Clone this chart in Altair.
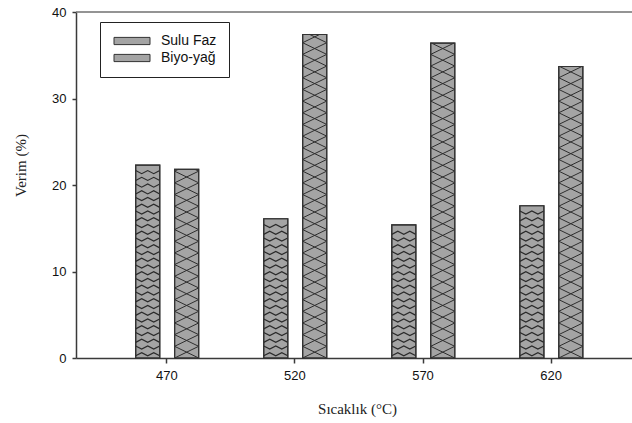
import altair as alt
import pandas as pd

# Yield (%) of the two product fractions at each pyrolysis temperature
temps = [470, 520, 570, 620]
sulu_faz = [22.3, 16.1, 15.4, 17.6]
biyo_yag = [21.8, 37.4, 36.4, 33.7]
series = ["Sulu Faz", "Biyo-yağ"]
y_ticks = [0, 10, 20, 30, 40]

# horizontal extent of each bar, relative to its temperature (in °C units)
OFFSETS = {"Sulu Faz": (-12.0, -2.6), "Biyo-yağ": (3.2, 12.6)}

rows = []
for t, s, b in zip(temps, sulu_faz, biyo_yag):
    for name, v in ((series[0], s), (series[1], b)):
        lo, hi = OFFSETS[name]
        rows.append({"temp": t, "seri": name, "verim": v, "x0": t + lo, "x1": t + hi})
bars = pd.DataFrame(rows)

# cross-hatch (diamond) fill for the bio-oil bars
PERIOD = 1.35
hatch = []
for r in bars[bars.seri == "Biyo-yağ"].itertuples():
    k = 0
    while k * PERIOD < r.verim:
        ya = k * PERIOD
        yb = min((k + 1) * PERIOD, r.verim)
        f = (yb - ya) / PERIOD
        w = r.x1 - r.x0
        hatch.append({"xa": r.x0, "ya": ya, "xb": r.x0 + f * w, "yb": yb})
        hatch.append({"xa": r.x1, "ya": ya, "xb": r.x1 - f * w, "yb": yb})
        k += 1
hatch = pd.DataFrame(hatch)

# wavy scale-like fill for the aqueous-phase bars
ROW, AMP = 0.78, 0.36
waves = []
sid = 0
for r in bars[bars.seri == "Sulu Faz"].itertuples():
    k = 0
    while True:
        base = 0.25 + k * ROW
        if base + AMP > r.verim - 0.1:
            break
        shift = k % 2
        for i, fx in enumerate([0, 0.25, 0.5, 0.75, 1.0]):
            dy = AMP if (i + shift) % 2 else 0.0
            waves.append({"id": sid, "ord": i, "x": r.x0 + fx * (r.x1 - r.x0), "y": base + dy})
        sid += 1
        k += 1
waves = pd.DataFrame(waves)

xscale = alt.Scale(domain=[434.7, 651.8], nice=False, zero=False)
yscale = alt.Scale(domain=[0, 40], nice=False, zero=True)

sans = "Liberation Sans"
serif = "Liberation Serif"

x_axis = alt.Axis(
    values=temps, format="d", title="Sıcaklık (°C)", grid=False,
    tickSize=5, labelPadding=6, labelFont=sans, labelFontSize=13,
    labelColor="#111111", domainColor="#3a3a3a", domainWidth=1.5,
    tickColor="#3a3a3a", tickWidth=1.5,
    titleFont=serif, titleFontSize=15, titleFontWeight="normal",
    titleColor="#222222", titleX=281, titleY=50, titleBaseline="middle",
)
y_axis = alt.Axis(
    values=y_ticks, format="d", title="Verim (%)", grid=False,
    tickSize=4, labelPadding=6, labelFont=sans, labelFontSize=13,
    labelColor="#111111", domainColor="#3a3a3a", domainWidth=1.5,
    tickColor="#3a3a3a", tickWidth=1.5,
    titleFont=serif, titleFontSize=15, titleFontWeight="normal",
    titleColor="#222222", titleAngle=270, titleX=-56, titleY=153,
    titleBaseline="middle", titleAlign="center",
)

bar_layer = alt.Chart(bars).mark_bar(stroke="#333333", strokeWidth=1.2).encode(
    x=alt.X("x0:Q", scale=xscale, axis=x_axis),
    x2="x1:Q",
    y=alt.Y("verim:Q", scale=yscale, axis=y_axis),
    y2=alt.datum(0),
    fill=alt.Fill(
        "seri:N",
        scale=alt.Scale(domain=series, range=["#a4a4a4", "#a4a4a4"]),
        legend=alt.Legend(
            title=None, orient="none", legendX=24, legendY=10,
            strokeColor="#222222", fillColor="white", padding=12,
            symbolType="M-1,-0.72H6.2V0.72H-1Z", symbolSize=100,
            symbolStrokeColor="#333333", symbolStrokeWidth=1,
            labelFont=sans, labelFontSize=14, labelColor="#111111",
            labelOffset=35, rowPadding=3,
        ),
    ),
)

hatch_layer = alt.Chart(hatch).mark_rule(color="#2e2e2e", strokeWidth=1).encode(
    x=alt.X("xa:Q", scale=xscale, axis=x_axis),
    x2="xb:Q",
    y=alt.Y("ya:Q", scale=yscale, axis=y_axis),
    y2="yb:Q",
)

wave_layer = alt.Chart(waves).mark_line(color="#2a2a2a", strokeWidth=1.2).encode(
    x=alt.X("x:Q", scale=xscale, axis=x_axis),
    y=alt.Y("y:Q", scale=yscale, axis=y_axis),
    detail="id:N",
    order="ord:Q",
)

outline_layer = alt.Chart(bars).mark_bar(fillOpacity=0, stroke="#333333", strokeWidth=1.2).encode(
    x=alt.X("x0:Q", scale=xscale, axis=x_axis),
    x2="x1:Q",
    y=alt.Y("verim:Q", scale=yscale, axis=y_axis),
    y2=alt.datum(0),
)

# top frame line
top_line = alt.Chart(pd.DataFrame({"y": [40]})).mark_rule(color="#707070", strokeWidth=1.5).encode(
    y=alt.Y("y:Q", scale=yscale, axis=y_axis),
)

chart = alt.layer(bar_layer, hatch_layer, wave_layer, outline_layer, top_line).properties(
    width=556,
    height=346,
    autosize=alt.AutoSizeParams(type="none"),
    padding={"left": 76, "top": 12, "right": 0, "bottom": 65},
    background="white",
).configure_view(stroke=None)

chart.save("out.html", embed_options={"renderer": "svg", "actions": False})
